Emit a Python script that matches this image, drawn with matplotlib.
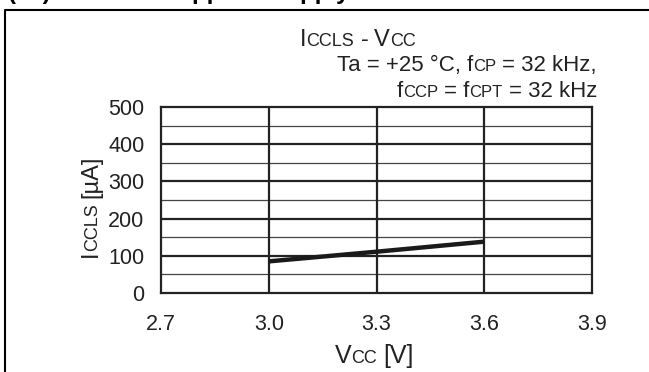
import matplotlib
matplotlib.use('Agg')
import matplotlib.pyplot as plt
from matplotlib.transforms import IdentityTransform
from matplotlib.textpath import TextPath
from matplotlib.patches import PathPatch
from matplotlib.font_manager import FontProperties

plt.rcParams['font.family'] = ['Liberation Sans', 'DejaVu Sans']

# data
vcc = [3.0, 3.3, 3.6]
iccls = [85, 111, 138]

x_ticks = [2.7, 3.0, 3.3, 3.6, 3.9]
x_ticklabels = ['2.7', '3.0', '3.3', '3.6', '3.9']
y_ticks = [0, 100, 200, 300, 400, 500]
y_minor = [50, 150, 250, 350, 450]

W, H = 649, 372
fig = plt.figure(figsize=(W / 100, H / 100), dpi=100)
ax = fig.add_axes([161 / W, (H - 293) / H, (592 - 161) / W, (293 - 107) / H])

ax.set_xlim(2.7, 3.9)
ax.set_ylim(0, 500)

# grid: heavy lines at the labelled values, lighter ones in between
for yv in y_ticks[1:-1]:
    ax.axhline(yv, color='#222222', lw=1.6, zorder=1)
for yv in y_minor:
    ax.axhline(yv, color='#444444', lw=0.9, zorder=1)
for xv in x_ticks[1:-1]:
    ax.axvline(xv, color='#222222', lw=1.6, zorder=1)

ax.plot(vcc, iccls, color='#1a1a1a', lw=3.2, solid_capstyle='butt', zorder=3)

for s in ax.spines.values():
    s.set_linewidth(1.6)
    s.set_color('#222222')

ax.set_xticks(x_ticks)
ax.set_xticklabels(x_ticklabels)
ax.set_yticks(y_ticks)
ax.tick_params(length=0, labelsize=15.5, colors='#222222')
ax.tick_params(axis='x', pad=15)
ax.tick_params(axis='y', pad=12)

renderer = fig.canvas.get_renderer()


def rich(x, y, parts, ha='left', rotation=0):
    """Draw text pieces of mixed size one after another (pixel coords, y from top)."""
    texts = []
    for s, fs, gap in parts:
        t = fig.text(0, 0, s, fontsize=fs, color='#222222', rotation=rotation,
                     rotation_mode='anchor', va='baseline', ha='left',
                     transform=IdentityTransform())
        texts.append((t, gap))
    sizes = []
    for t, gap in texts:
        bb = t.get_window_extent(renderer)
        sizes.append((bb.height if rotation else bb.width) + gap)
    total = sum(sizes)
    cur = -{'left': 0, 'center': total / 2, 'right': total}[ha]
    for (t, gap), w in zip(texts, sizes):
        if rotation:
            t.set_position((x, H - y + cur))
        else:
            t.set_position((x + cur, H - y))
        cur += w


rich(358, 46, [('I', 17, -1), ('CCLS', 13, 7), ('-', 17, 6), ('V', 17, 0), ('CC', 13, 0)],
     ha='center')
rich(597, 71, [('Ta = +25 °C, f', 16, 0), ('CP', 12, 6), ('= 32 kHz,', 16, 0)],
     ha='right')
rich(597, 97, [('f', 16, 0), ('CCP', 12, 6), ('= f', 16, 0), ('CPT', 12, 6),
               ('= 32 kHz', 16, 0)], ha='right')
rich(374, 363, [('V', 18, 0), ('CC', 13, 6), ('[V]', 18, 0)], ha='center')
rich(97, 206, [('I', 17, -1), ('CCLS', 13, 6), ('[µA]', 17, 0)], ha='center', rotation=90)

# frame of the surrounding page box
fig.add_artist(plt.Line2D([5, 5, W], [0, H - 10, H - 10], color='black', lw=1.5,
                          transform=IdentityTransform()))

# heading cut off at the top edge of the picture
head = TextPath((8, H + 1), '(12)  Subclock upper  - supply', size=24,
                prop=FontProperties(family='Liberation Sans', weight='bold'))
fig.add_artist(PathPatch(head, facecolor='black', edgecolor='none',
                         transform=IdentityTransform()))

fig.savefig('out.png', dpi=100)
